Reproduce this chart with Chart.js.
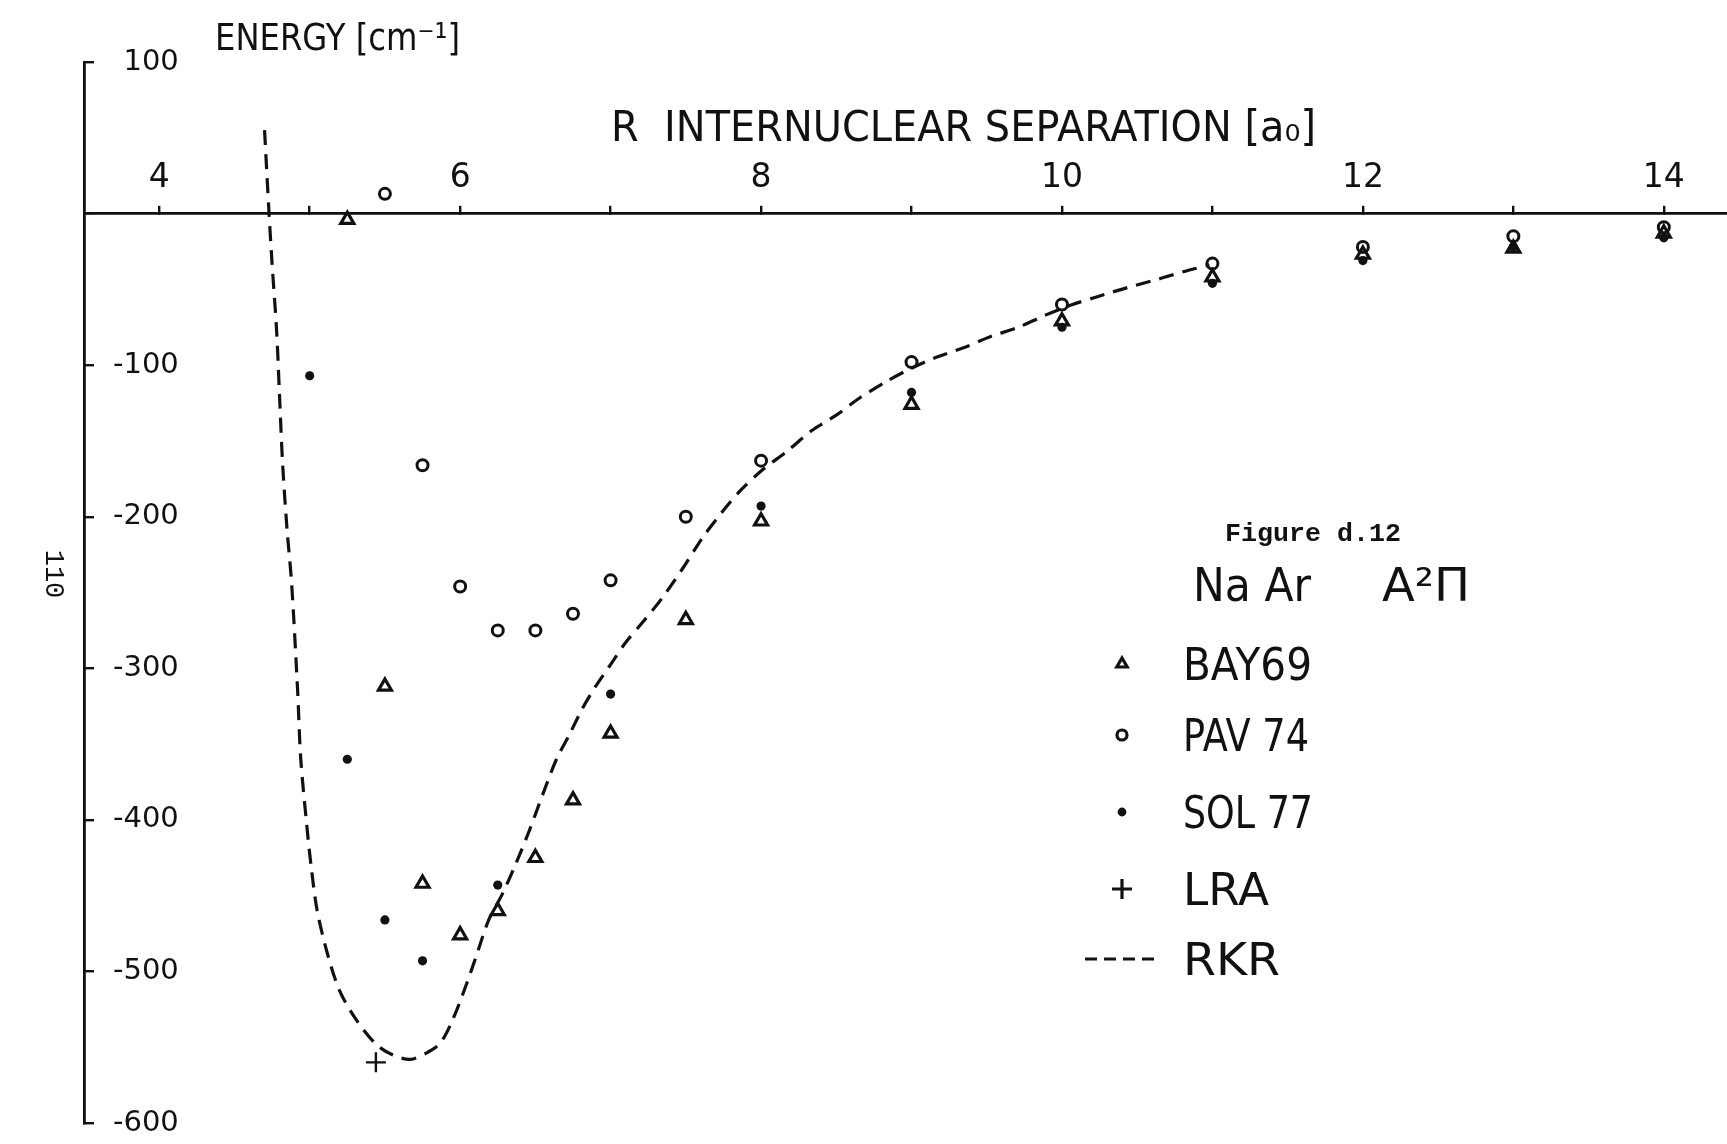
<!DOCTYPE html>
<html>
<head>
<meta charset="utf-8">
<title>NaAr A2Pi potential</title>
<script src="https://cdn.jsdelivr.net/npm/chart.js@4.4.1/dist/chart.umd.min.js"></script>
<style>
    html, body { margin: 0; padding: 0; background: #fff; }
    #wrap { width: 1727px; height: 1144px; }
</style>
</head>
<body>
<div id="wrap"><canvas id="potentialChart" width="1727" height="1144"></canvas></div>
<script>
// R in bohr (a0), energy in cm-1
const bayR = [5.25, 5.5, 5.75, 6.0, 6.25, 6.5, 6.75, 7.0, 7.5, 8, 9, 10, 11, 12, 13, 14];
const bayE = [-4, -312, -442, -476, -460, -425, -387, -343, -268, -203, -126, -71, -42, -27, -23, -13];

const pavR = [5.5, 5.75, 6.0, 6.25, 6.5, 6.75, 7.0, 7.5, 8, 9, 10, 11, 12, 13, 14];
const pavE = [13, -166, -246, -275, -275, -264, -242, -200, -163, -98, -60, -33, -22, -15, -9];

const solR = [5.0, 5.25, 5.5, 5.75, 6.25, 7.0, 8, 9, 10, 11, 12, 13, 14];
const solE = [-107, -360, -466, -493, -443, -317, -193, -118, -75, -46, -31, -22, -16];

const lraR = [5.44];
const lraE = [-560];

// RKR curve
const rkrR = [4.70, 4.73, 4.75, 4.78, 4.80, 4.82, 4.85, 4.88, 4.92, 4.94,
              4.98, 5.01, 5.05, 5.12, 5.20, 5.31, 5.44, 5.55, 5.67, 5.79,
              5.87, 5.95, 6.04, 6.11, 6.19, 6.28, 6.37, 6.46, 6.55, 6.64,
              6.72, 6.81, 6.90, 6.99, 7.10, 7.21, 7.34, 7.48, 7.61, 7.74,
              7.87, 8.01, 8.17, 8.34, 8.50, 8.65, 8.83, 8.98, 9.16, 9.36,
              9.53, 9.71, 9.89, 10.07, 10.23, 10.43, 10.65, 10.82, 10.98];
const rkrE = [55, 0, -33, -77, -121, -165, -209, -244, -315, -359,
              -403, -431, -460, -489, -513, -532, -548, -555, -558, -553,
              -547, -532, -509, -489, -466, -449, -429, -407, -383, -360,
              -345, -327, -312, -299, -283, -270, -254, -234, -214, -197,
              -182, -169, -157, -143, -133, -122, -111, -103, -95, -88,
              -81, -75, -67, -60, -55, -49, -43, -38, -34];

const rLabelled = [4, 6, 8, 10, 12, 14];
const seriesNames = ['BAY69', 'PAV 74', 'SOL 77', 'LRA', 'RKR'];

const ink = '#111';
const hand = '"DejaVu Sans", "Open Sans", sans-serif';
const typed = '"Liberation Mono", "DejaVu Sans Mono", monospace';

function toPoints(xs, ys) {
    return xs.map((x, i) => ({ x: x, y: ys[i] }));
}

// draw text squeezed to a given width, left edge + baseline
function fitText(ctx, text, left, baseline, size, width, family, weight) {
    ctx.save();
    ctx.font = (weight || 'normal') + ' ' + size + 'px ' + family;
    const natural = ctx.measureText(text).width;
    ctx.translate(left, baseline);
    ctx.scale(width / natural, 1);
    ctx.textAlign = 'left';
    ctx.textBaseline = 'alphabetic';
    ctx.fillStyle = ink;
    ctx.fillText(text, 0, 0);
    ctx.restore();
}

// titles, figure caption and legend
const notesPlugin = {
    id: 'notes',
    afterDraw(chart) {
        const ctx = chart.ctx;
        fitText(ctx, 'ENERGY [cm\u207B\u00B9]', 215, 50, 38, 245, hand);
        fitText(ctx, 'R  INTERNUCLEAR SEPARATION [a\u2080]', 611, 141, 42, 705, hand);
        fitText(ctx, 'Figure d.12', 1225, 541, 26, 176, typed, 'bold');
        fitText(ctx, 'Na Ar', 1193, 601, 46, 118, hand);
        fitText(ctx, 'A\u00B2\u03A0', 1382, 601, 46, 88, hand);

        // legend rows
        const rows = [
            { style: 'triangle', r: 6, fill: false, base: 680, w: 129 },
            { style: 'circle', r: 5, fill: false, base: 751, w: 126 },
            { style: 'circle', r: 4.4, fill: true, base: 828, w: 130 },
            { style: 'cross', r: 10, fill: false, base: 905, w: 86 },
            { style: 'dash', r: 0, fill: false, base: 975, w: 97 }
        ];
        rows.forEach((row, i) => {
            fitText(ctx, seriesNames[i], 1183, row.base, 44, row.w, hand);
            const cy = row.base - 16;
            ctx.save();
            ctx.strokeStyle = ink;
            ctx.fillStyle = row.fill ? ink : 'rgba(0,0,0,0)';
            if (row.style === 'dash') {
                ctx.lineWidth = 3;
                ctx.setLineDash([12, 7]);
                ctx.beginPath();
                ctx.moveTo(1085, cy);
                ctx.lineTo(1156, cy);
                ctx.stroke();
            } else {
                Chart.helpers.drawPoint(ctx, {
                    pointStyle: row.style,
                    radius: row.r,
                    rotation: 0,
                    borderWidth: row.fill ? 0 : 2.6
                }, 1122, cy);
            }
            ctx.restore();
        });

        // page number on the margin
        ctx.save();
        ctx.translate(53, 574);
        ctx.rotate(Math.PI / 2);
        ctx.font = '27px ' + typed;
        ctx.fillStyle = ink;
        ctx.textAlign = 'center';
        ctx.textBaseline = 'middle';
        ctx.fillText('110', 0, 0);
        ctx.restore();
    }
};

const chartCtx = document.getElementById('potentialChart').getContext('2d');

new Chart(chartCtx, {
    type: 'scatter',
    data: {
        datasets: [
            {
                label: seriesNames[0],
                data: toPoints(bayR, bayE),
                pointStyle: 'triangle',
                pointRadius: 7.5,
                pointBorderWidth: 3.2,
                pointBorderColor: ink,
                pointBackgroundColor: 'rgba(0,0,0,0)'
            },
            {
                label: seriesNames[1],
                data: toPoints(pavR, pavE),
                pointStyle: 'circle',
                pointRadius: 5.5,
                pointBorderWidth: 3,
                pointBorderColor: ink,
                pointBackgroundColor: 'rgba(0,0,0,0)'
            },
            {
                label: seriesNames[2],
                data: toPoints(solR, solE),
                pointStyle: 'circle',
                pointRadius: 4.6,
                pointBorderWidth: 0,
                pointBorderColor: ink,
                pointBackgroundColor: ink
            },
            {
                label: seriesNames[3],
                data: toPoints(lraR, lraE),
                pointStyle: 'cross',
                pointRadius: 10,
                pointBorderWidth: 2.4,
                pointBorderColor: ink
            },
            {
                label: seriesNames[4],
                data: toPoints(rkrR, rkrE),
                showLine: true,
                borderColor: ink,
                borderWidth: 3.2,
                borderDash: [15, 9],
                tension: 0.3,
                fill: false,
                pointRadius: 0
            }
        ]
    },
    options: {
        responsive: false,
        devicePixelRatio: 1,
        animation: false,
        clip: false,
        layout: {
            autoPadding: false,
            padding: { left: 84, top: 62, right: 0, bottom: 21 }
        },
        plugins: {
            legend: { display: false },
            tooltip: { enabled: false }
        },
        scales: {
            x: {
                type: 'linear',
                min: 3.5,
                max: 14.42,
                position: { y: 0 },
                afterFit: function(scale) {
                    scale.height = 0;
                    scale.paddingLeft = 0;
                    scale.paddingRight = 0;
                },
                border: { display: true, color: ink, width: 2.8 },
                grid: { drawOnChartArea: false, drawTicks: true, tickLength: -9, color: ink, lineWidth: 2.4 },
                ticks: {
                    stepSize: 1,
                    includeBounds: false,
                    autoSkip: false,
                    maxRotation: 0,
                    padding: -46,
                    color: ink,
                    font: { family: hand, size: 33 },
                    callback: function(value) {
                        return rLabelled.includes(value) ? String(value) : '';
                    }
                }
            },
            y: {
                type: 'linear',
                min: -600,
                max: 100,
                position: 'left',
                afterFit: function(scale) {
                    scale.width = 0;
                    scale.paddingTop = 0;
                    scale.paddingBottom = 0;
                },
                border: { display: true, color: ink, width: 2.8 },
                grid: { drawOnChartArea: false, drawTicks: true, tickLength: -10, color: ink, lineWidth: 2.4 },
                ticks: {
                    stepSize: 100,
                    mirror: true,
                    crossAlign: 'far',
                    padding: 29,
                    color: ink,
                    font: { family: hand, size: 29 },
                    callback: function(value) {
                        return value === 0 ? '' : String(value);
                    }
                }
            }
        }
    },
    plugins: [notesPlugin]
});
</script>
</body>
</html>
